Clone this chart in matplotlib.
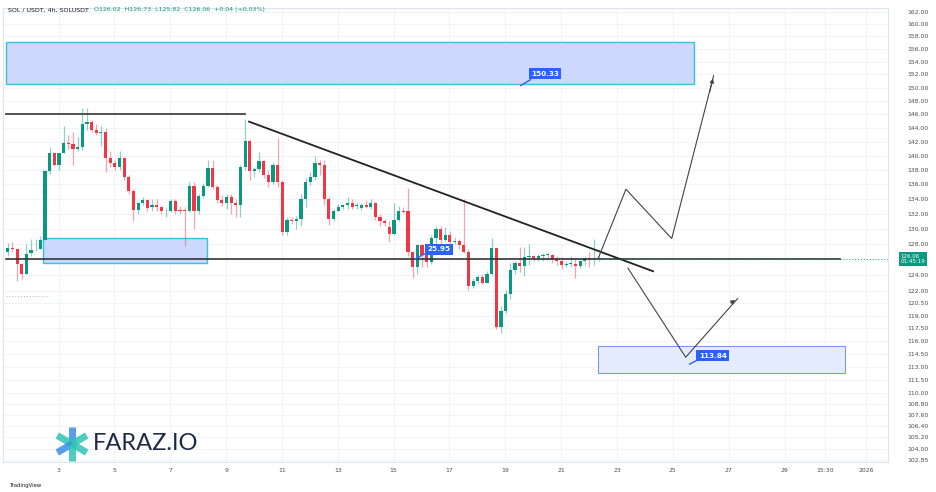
import matplotlib
matplotlib.use("Agg")
import matplotlib.pyplot as plt
import numpy as np
from matplotlib.patches import Rectangle
from matplotlib.lines import Line2D

opens = [127.0,127.5,127.3,125.4,124.2,126.8,127.3,127.3,128.5,137.8,
         140.4,138.6,140.4,141.8,141.6,140.9,141.2,144.5,144.8,143.7,
         143.2,143.4,139.7,139.0,138.4,139.7,137.0,135.0,132.5,133.4,
         133.8,132.9,133.2,132.9,132.3,132.3,133.7,132.5,132.5,132.3,
         135.7,132.4,134.4,135.8,138.3,135.6,133.8,133.4,134.3,133.4,
         133.1,138.4,142.1,137.8,138.1,139.2,137.3,136.3,138.7,136.3,
         129.5,131.2,131.0,131.3,133.9,136.3,137.0,139.0,138.7,133.9,
         131.3,132.4,132.9,133.1,133.4,133.0,132.8,133.2,132.9,133.4,
         131.6,131.0,130.2,129.3,131.2,132.4,132.3,127.0,125.1,127.9,
         126.6,125.7,128.8,130.0,128.5,129.2,128.3,128.4,127.8,127.0,
         122.6,123.3,123.8,123.0,124.2,127.5,117.7,119.6,121.7,124.6,
         125.5,125.2,126.3,126.4,126.2,126.4,126.6,126.6,126.1,125.8,
         125.3,125.4,125.4,125.2,125.8,126.2,126.02,126.02]
highs = [128.1,128.2,127.5,125.5,128.0,128.6,128.6,129.0,138.0,141.2,
         140.5,140.4,144.2,143.0,143.4,142.6,146.9,146.9,145.1,144.5,
         144.3,143.9,140.7,139.4,140.7,139.8,137.3,135.3,133.5,134.2,
         133.9,133.9,133.9,133.0,132.8,133.9,133.9,133.0,132.9,136.3,
         136.3,134.7,136.2,139.4,139.3,135.9,134.5,134.6,134.6,133.9,
         138.7,145.3,142.2,138.4,140.5,139.4,138.0,139.1,142.5,136.6,
         131.6,131.6,131.7,134.6,136.8,137.7,140.0,139.4,139.4,134.2,
         132.6,133.3,133.3,134.2,133.9,133.6,133.4,133.8,133.9,133.5,
         132.0,131.3,131.0,133.4,133.0,132.9,135.4,127.1,127.9,128.0,
         127.4,129.2,130.3,130.3,130.2,129.7,128.9,128.7,133.9,127.3,
         123.6,124.0,124.1,124.5,128.8,127.5,120.2,122.1,125.5,125.8,
         127.6,127.6,128.0,126.6,126.7,126.8,127.0,126.7,126.4,126.3,
         125.8,126.4,126.2,125.9,126.4,126.9,128.6,126.4]
lows = [126.5,127.0,123.3,123.5,124.2,126.5,127.1,127.3,128.5,137.4,
        138.6,137.9,140.3,141.0,138.7,140.7,140.8,143.7,143.4,143.0,
        141.3,137.7,138.4,138.0,138.0,136.6,134.6,131.0,131.9,133.2,
        132.4,132.3,132.4,131.9,131.6,132.2,131.9,131.9,127.7,132.2,
        130.0,131.9,134.1,135.6,135.3,133.4,133.0,132.6,131.9,131.6,
        131.6,138.0,136.6,137.0,137.7,136.9,135.6,136.0,135.6,129.2,
        129.2,130.6,130.0,130.3,132.9,135.9,136.6,137.3,133.2,130.5,
        131.0,132.3,132.6,132.6,132.6,132.6,132.5,132.7,132.6,131.1,
        130.4,130.4,128.2,129.1,131.0,132.1,126.5,123.7,124.1,125.1,
        125.1,125.4,127.4,126.9,128.3,127.8,128.0,127.4,126.8,122.2,
        122.4,123.0,122.9,123.4,124.0,117.4,117.0,119.3,121.0,124.1,
        124.4,123.9,125.3,125.8,125.8,125.8,125.9,125.6,125.3,124.8,
        125.1,125.1,123.6,124.9,125.3,125.0,125.3,125.82]
closes = [127.5,127.3,125.4,124.2,126.7,127.2,127.4,128.5,137.8,140.4,
          138.6,140.4,141.8,141.6,140.9,141.2,144.5,144.8,143.7,143.2,
          143.4,139.7,139.0,138.4,139.7,137.0,135.0,132.5,133.4,133.8,
          132.8,133.1,132.9,132.3,132.4,133.7,132.3,132.3,132.3,135.7,
          132.3,134.4,135.8,138.3,135.6,133.8,133.4,134.3,133.4,133.1,
          138.4,142.1,137.8,138.1,139.2,137.3,136.3,138.7,136.3,129.5,
          131.2,131.0,131.3,133.9,136.3,137.0,139.0,138.7,133.9,131.3,
          132.4,132.9,133.1,133.4,132.9,133.1,133.1,132.9,133.4,131.6,
          131.0,130.7,129.3,131.2,132.4,132.2,127.0,125.1,127.9,126.6,
          125.7,128.8,130.0,128.5,129.2,128.3,128.4,127.8,127.0,122.6,
          123.3,123.8,123.0,124.2,127.5,117.7,119.6,121.7,124.6,125.5,
          125.2,126.3,126.4,126.2,126.4,126.6,126.7,126.1,125.8,125.3,
          125.4,125.5,125.2,125.8,126.2,126.06,126.02,126.06]

date_ticks = [3,5,7,9,11,13,15,17,19,21,23,25,27,29]
extra_ticks = [30.46, 31.93]
extra_labels = ["15:30", "2026"]
price_ticks = [162,160,158,156,154,152,150,148,146,144,142,140,138,136,134,132,130,128,
               124,122,120.5,119,117.5,116,114.5,113,111.5,110,108.8,107.6,106.4,105.2,104,102.85]

W, H = 936, 492
fig = plt.figure(figsize=(W/100, H/100), dpi=100)
fig.patch.set_facecolor("white")
ax = fig.add_axes([0.003, 30/H, 885/W, (462-8)/H])
ax.set_yscale("log")
ax.set_xlim(1.0, 32.7)
ax.set_ylim(102.6, 162.6)

GREEN, RED = "#089981", "#f23645"
n = len(closes)
days = 1.18 + np.arange(n) / 6.0
for i in range(n):
    up = closes[i] >= opens[i]
    col = GREEN if up else RED
    ax.vlines(days[i], lows[i], highs[i], color=col, alpha=0.45, lw=0.9, zorder=3)
    lo, hi = min(opens[i], closes[i]), max(opens[i], closes[i])
    if hi - lo < 0.08:
        hi = lo + 0.08
    ax.bar(days[i], hi - lo, bottom=lo, width=0.115, color=col, zorder=4, lw=0)

# grid
for t in date_ticks + extra_ticks:
    ax.axvline(t, color="#f0f3fa", lw=0.8, zorder=0)
for p in price_ticks:
    ax.axhline(p, color="#f0f3fa", lw=0.8, zorder=0)

# zones
ax.add_patch(Rectangle((1.11, 150.6), 25.75 - 1.11, 157.1 - 150.6, facecolor="#cdd8ff",
                       edgecolor="#33c3dd", lw=1.0, zorder=2))
ax.add_patch(Rectangle((2.43, 125.5), 8.32 - 2.43, 128.8 - 125.5, facecolor="#cdd8ff",
                       edgecolor="#33c3dd", lw=1.0, zorder=2))
ax.add_patch(Rectangle((22.32, 112.3), 31.18 - 22.32, 115.4 - 112.3, facecolor="#e6ecff",
                       edgecolor="#6e8ff5", lw=0.7, zorder=2))

# lines
ax.plot([1.11, 9.68], [146.0, 146.0], color="#444444", lw=1.3, zorder=5)
ax.plot([1.11, 31.0], [126.1, 126.1], color="#333333", lw=1.2, zorder=5)
ax.plot([9.82, 24.29], [144.9, 124.5], color="#222222", lw=1.3, zorder=5)
ax.plot([22.32, 23.32, 24.96, 26.46], [126.1, 135.3, 128.7, 151.8], color="#444444", lw=0.8, zorder=5)
ax.plot([23.39, 25.46, 27.32], [124.9, 114.1, 121.1], color="#444444", lw=0.8, zorder=5)
ax.annotate("", xy=(26.46, 151.8), xytext=(26.3, 149.0),
            arrowprops=dict(arrowstyle="-|>", color="#444444", lw=0.8, mutation_scale=6), zorder=5)
ax.annotate("", xy=(27.32, 121.1), xytext=(27.0, 120.4),
            arrowprops=dict(arrowstyle="-|>", color="#444444", lw=0.8, mutation_scale=6), zorder=5)
ax.plot([22.32, 32.7], [126.06, 126.06], color=GREEN, lw=0.7, ls=(0, (1, 2)), zorder=5)
ax.plot([1.11, 2.61], [121.4, 121.4], color="#b0b3bb", lw=0.7, ls=(0, (1, 2)), zorder=5)

# labels
def tag(x, y, s):
    ax.text(x, y, s, color="white", fontsize=5.2, fontweight="bold", ha="center", va="center",
            zorder=7, bbox=dict(boxstyle="square,pad=0.35", fc="#2962ff", ec="none"))
tag(20.42, 152.1, "150.33")
ax.plot([19.55, 19.9], [150.3, 151.2], color="#2962ff", lw=1.0, zorder=7)
tag(26.43, 114.3, "113.84")
ax.plot([25.6, 25.95], [113.3, 113.9], color="#2962ff", lw=1.0, zorder=7)
tag(16.62, 127.3, "25.95")
ax.plot([15.75, 16.1], [126.0, 126.7], color="#2962ff", lw=1.0, zorder=7)

# axes styling
ax.set_xticks(date_ticks + extra_ticks)
ax.set_xticklabels([str(d) for d in date_ticks] + extra_labels)
ax.yaxis.tick_right()
ax.set_yticks(price_ticks)
ax.set_yticklabels(["%.2f" % p for p in price_ticks])
ax.yaxis.set_minor_locator(matplotlib.ticker.NullLocator())
ax.tick_params(axis="both", length=0, labelsize=4.4, colors="#4a4d55")
ax.tick_params(axis="y", pad=14)
ax.tick_params(axis="x", pad=4)
for s in ax.spines.values():
    s.set_color("#e0e3eb")
    s.set_linewidth(0.8)

# current price label
ax.text(33.15, 126.06, "126.06\n01:45:19", transform=ax.transData,
        fontsize=4.0, color="white", ha="left", va="center", zorder=8, clip_on=False,
        linespacing=1.1, bbox=dict(boxstyle="square,pad=0.3", fc=GREEN, ec="none"))

# header
fig.text(8/W, 1 - 10/H, "SOL / USDT, 4h, SOLUSDT", fontsize=4.5, color="#131722", va="center")
fig.text(94/W, 1 - 10/H, "O126.02  H126.73  L125.82  C126.06  +0.04 (+0.03%)", fontsize=4.5,
         color=GREEN, va="center")

# logo
cx, cy = 72, 444
for ang, col in [(90, "#3a8ee6"), (30, "#2ec4b6"), (150, "#2ec4b6"), (210, "#3a8ee6"), (330, "#2ec4b6"), (270, "#2ec4b6")]:
    a = np.deg2rad(ang)
    fig.add_artist(Line2D([cx/W, (cx + 17*np.cos(a))/W], [1 - cy/H, 1 - (cy - 17*np.sin(a))/H],
                          color=col, lw=5, solid_capstyle="butt", alpha=0.85))
fig.text(93/W, 1 - 444/H, "FARAZ.IO", fontsize=17, color="#1c2a48", va="center", family="Lato")
fig.text(10/W, 1 - 485/H, "TradingView", fontsize=3.8, color="#131722", va="center")

fig.savefig("out.png", dpi=100)
